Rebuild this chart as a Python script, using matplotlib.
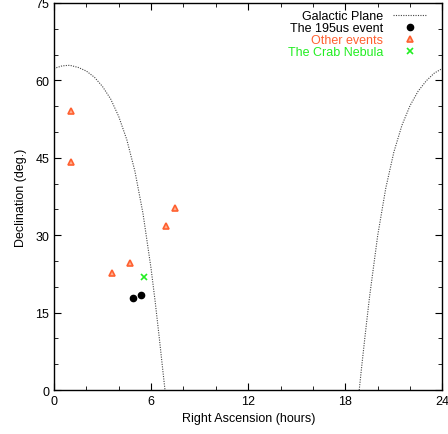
import matplotlib
matplotlib.use('Agg')
import matplotlib.pyplot as plt
from matplotlib.ticker import MultipleLocator

# ─── Data ────────────────────────────────────────────────────────────────────
# galactic plane, left branch (RA hours, Dec deg)
plane_ra_a  = [0.0, 0.5, 0.86, 1.0, 1.5, 2.0, 2.5, 3.0, 3.5, 4.0, 4.5,
               5.0, 5.5, 6.0, 6.25, 6.5, 6.75, 6.86]
plane_dec_a = [62.3, 62.8, 62.9, 62.9, 62.5, 61.8, 60.6, 58.8, 56.4, 53.0,
               48.5, 42.4, 34.2, 23.5, 17.2, 10.3, 3.1, 0.0]
# galactic plane, right branch
plane_ra_b  = [18.86, 19.0, 19.25, 19.5, 20.0, 20.5, 21.0, 21.5, 22.0,
               22.5, 23.0, 23.5, 24.0]
plane_dec_b = [0.0, 4.2, 11.3, 18.1, 29.9, 39.1, 46.1, 51.3, 55.1, 57.9,
               59.9, 61.4, 62.3]

event_ra  = [4.91, 5.40]
event_dec = [17.9, 18.5]

other_ra  = [1.05, 1.05, 7.50, 6.91, 4.70, 3.61]
other_dec = [54.1, 44.2, 35.3, 31.8, 24.6, 22.6]

crab_ra  = [5.55]
crab_dec = [21.9]

ORANGE = '#FF6030'
GREEN  = '#22EE22'

# ─── Plot ────────────────────────────────────────────────────────────────────
plt.rcParams['font.family'] = ['Liberation Sans', 'DejaVu Sans']
fig = plt.figure(figsize=(4.48, 4.35), dpi=100)
ax = fig.add_axes([0.1205, 0.101, 0.867, 0.89])

ax.plot(plane_ra_a, plane_dec_a, color='#444444', ls=(0, (1, 1.2)), lw=0.8,
        label='Galactic Plane')
ax.plot(plane_ra_b, plane_dec_b, color='#444444', ls=(0, (1, 1.2)), lw=0.8)
ax.plot(event_ra, event_dec, 'o', color='black', ms=4.5, ls='none',
        label='The 195us event')
ax.plot(other_ra, other_dec, '^', mfc='#FFB090', mec=ORANGE, mew=1.2, ms=4.5,
        ls='none', label='Other events')
ax.plot(crab_ra, crab_dec, 'x', color=GREEN, ms=5, mew=1.2, ls='none',
        label='The Crab Nebula')

ax.set_xlim(0, 24)
ax.set_ylim(0, 75)
ax.xaxis.set_major_locator(MultipleLocator(6))
ax.xaxis.set_minor_locator(MultipleLocator(2))
ax.yaxis.set_major_locator(MultipleLocator(15))
ax.yaxis.set_minor_locator(MultipleLocator(5))
ax.tick_params(which='both', direction='in', top=True, right=True,
               labelsize=9, colors='black')
ax.tick_params(which='major', length=5)
ax.tick_params(which='minor', length=3)
for sp in ax.spines.values():
    sp.set_linewidth(1.0)

ax.set_xlabel('Right Ascension (hours)', fontsize=9, labelpad=4)
ax.set_ylabel('Declination (deg.)', fontsize=9, labelpad=6)

leg = ax.legend(loc='upper right', bbox_to_anchor=(0.977, 1.0),
                markerfirst=False, frameon=False,
                fontsize=9, handlelength=2.6, handletextpad=0.8,
                labelspacing=0.0, borderaxespad=0.2)
for txt, c in zip(leg.get_texts(), ['black', 'black', ORANGE, GREEN]):
    txt.set_color(c)
    txt.set_horizontalalignment('right')
leg._legend_box.align = 'right'

plt.savefig('out.png', dpi=100)
